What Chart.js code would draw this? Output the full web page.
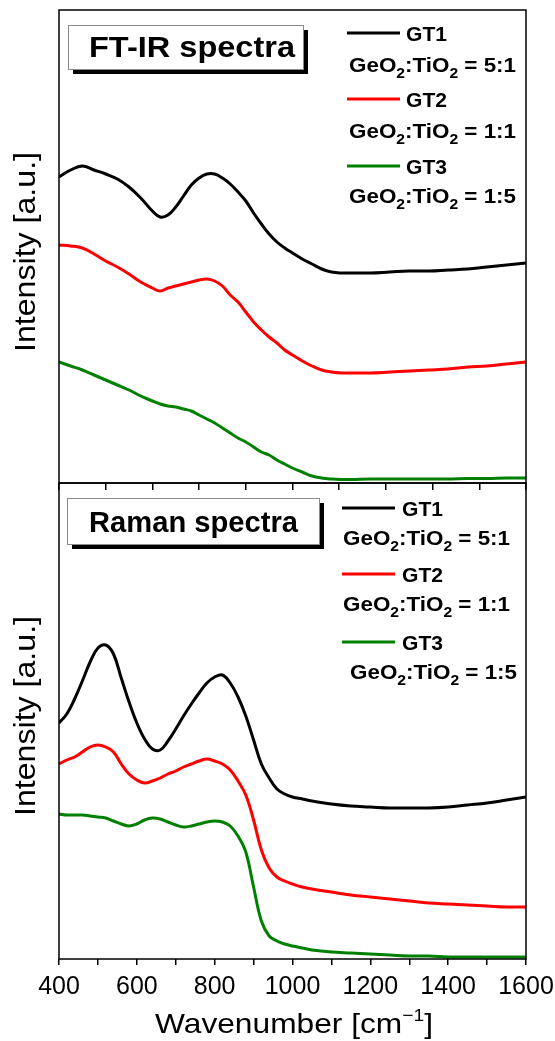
<!DOCTYPE html>
<html>
<head>
<meta charset="utf-8">
<script src="https://cdn.jsdelivr.net/npm/chart.js@4.4.1/dist/chart.umd.min.js"></script>
<style>
  html, body { margin: 0; padding: 0; background: #fff; }
  #wrap { position: relative; width: 555px; height: 1041px; background: #fff; }
  canvas { position: absolute; left: 0; top: 0; }
</style>
</head>
<body>
<div id="wrap">
  <canvas id="ftirChart" width="555" height="1041"></canvas>
  <canvas id="ramanChart" width="555" height="1041"></canvas>
</div>
<script>
// Samples
const seriesNames = ['GT1', 'GT2', 'GT3'];
const ratioLabels = ['5:1', '1:1', '1:5'];
const seriesColors = ['#000000', '#ff0000', '#008000'];

// FT-IR spectra (offset, arbitrary units)
const ftirWavenumber = [400, 430, 460, 490, 520, 550, 580, 610, 640,
  660, 680, 700, 720, 740, 760, 780, 800, 820, 840, 860, 880, 900, 920, 940, 960, 980, 1000,
  1025, 1050, 1075, 1100, 1125, 1150,
  1200, 1250, 1300, 1350, 1400, 1450, 1500, 1550, 1600];
const ftirGT1 = [306, 313, 317, 313, 309, 304, 296, 285, 272,
  266, 268, 276, 287, 298, 305, 309, 309, 305, 299, 291, 282, 270, 259, 249, 241, 235, 230,
  224, 219, 214, 211, 210, 210,
  210, 211, 212, 212, 213, 214, 216, 218, 220];
const ftirGT2 = [238, 237, 235, 229, 222, 216, 209, 201, 195,
  192, 195, 197, 199, 201, 203, 204, 202, 197, 188, 181, 171, 161, 153, 146, 140, 133, 128,
  122, 117, 113, 111, 110, 110,
  110, 111, 112, 113, 114, 116, 117, 119, 121];
const ftirGT3 = [121, 117, 113, 108, 103, 98, 93, 87, 82,
  79, 77, 76, 74, 72, 68, 64, 60, 55, 50, 45, 41, 36, 31, 28, 23, 19, 15,
  11, 7, 5, 4, 3.5, 3.5,
  4, 4, 4, 4, 4, 4.5, 4.5, 5, 5];

// Raman spectra (offset, arbitrary units)
const ramanWavenumber = [400, 420, 440, 460, 480, 500, 520, 540, 560, 580,
  600, 620, 640, 660, 680, 700, 720, 740, 760, 780,
  800, 820, 840, 860, 880, 900, 920, 940, 960, 980, 1000,
  1025, 1050,
  1100, 1150, 1200, 1250, 1300, 1350, 1400, 1450, 1500, 1550, 1600];
const ramanGT1 = [236, 245, 260, 278, 297, 311, 314, 305, 281, 257,
  236, 220, 210, 209, 218, 230, 243, 255, 266, 276,
  282, 284, 276, 262, 243, 219, 195, 181, 170, 165, 162,
  160, 158,
  155, 153, 152, 151, 151, 151, 152, 154, 156, 159, 162];
const ramanGT2 = [195, 199, 202, 207, 212, 214, 212, 207, 195, 185,
  179, 176, 178, 181, 185, 188, 192, 195, 198, 200,
  198, 195, 189, 178, 164, 139, 109, 91, 82, 78, 75,
  72, 70,
  67, 64, 62, 60, 58, 56, 55, 54, 53, 52, 52];
const ramanGT3 = [145, 144, 144, 144, 143, 142, 141, 138, 135, 133,
  135, 139, 141, 140, 137, 134, 132, 133, 135, 137,
  138, 137, 133, 123, 107, 72, 38, 23, 18, 15, 13,
  11, 9,
  7, 6, 5, 4, 3, 3, 2, 2, 2, 2, 2];

// Axis ticks
const ftirTickValues = [400, 520, 640, 760, 880, 1000, 1120, 1240, 1360, 1480, 1600];
const ramanTickValues = [400, 500, 600, 700, 800, 900, 1000, 1100, 1200, 1300, 1400, 1500, 1600];
const ramanTickLabels = ['400', '600', '800', '1000', '1200', '1400', '1600'];

const FONT = '"Liberation Sans", Arial, Helvetica, sans-serif';
Chart.defaults.font.family = FONT;
Chart.defaults.color = '#000';

function toPoints(xs, ys) {
  return xs.map((x, i) => ({ x: x, y: ys[i] }));
}

function makeDatasets(xs, seriesList) {
  return seriesList.map((ys, i) => ({
    label: seriesNames[i],
    data: toPoints(xs, ys),
    borderColor: seriesColors[i],
    borderWidth: 3,
    pointRadius: 0,
    tension: 0.4,
    fill: false
  }));
}

// text squeezed / stretched horizontally to a target width
function drawFitted(ctx, text, x, y, font, width) {
  ctx.font = font;
  const w = ctx.measureText(text).width;
  ctx.save();
  ctx.translate(x, y);
  ctx.scale(width / w, 1);
  ctx.fillText(text, 0, 0);
  ctx.restore();
}

// parts: [text, sizeFactor, shiftY]
function drawRich(ctx, parts, x, y, size, weight, width) {
  let natural = 0;
  parts.forEach(p => {
    ctx.font = `${weight} ${Math.round(size * p[1])}px ${FONT}`;
    natural += ctx.measureText(p[0]).width;
  });
  const sx = width / natural;
  ctx.save();
  ctx.translate(x, y);
  ctx.scale(sx, 1);
  let cx = 0;
  parts.forEach(p => {
    ctx.font = `${weight} ${Math.round(size * p[1])}px ${FONT}`;
    ctx.fillText(p[0], cx, p[2]);
    cx += ctx.measureText(p[0]).width;
  });
  ctx.restore();
}

const panelPlugin = {
  id: 'panel',
  afterDatasetsDraw(chart, args, cfg) {
    const { ctx, chartArea: a } = chart;
    ctx.save();
    // frame
    ctx.strokeStyle = '#000';
    ctx.lineWidth = 1.5;
    ctx.strokeRect(a.left, a.top, a.right - a.left, a.bottom - a.top);

    // title box with shadow
    const b = cfg.box;
    ctx.fillStyle = '#000';
    ctx.fillRect(b[0] + 5, b[1] + 5, b[2], b[3]);
    ctx.fillStyle = '#fff';
    ctx.fillRect(b[0], b[1], b[2], b[3]);
    ctx.strokeStyle = '#8a8a8a';
    ctx.lineWidth = 1;
    ctx.strokeRect(b[0] + 0.5, b[1] + 0.5, b[2], b[3]);
    ctx.fillStyle = '#000';
    ctx.textAlign = 'left';
    ctx.textBaseline = 'alphabetic';
    drawFitted(ctx, cfg.boxText, cfg.boxTextX, cfg.boxTextY, `bold 29px ${FONT}`, cfg.boxTextW);

    // legend
    const lg = cfg.legend;
    chart.data.datasets.forEach((ds, i) => {
      const ly = lg.rowY[i];
      ctx.strokeStyle = ds.borderColor;
      ctx.lineWidth = 3;
      ctx.beginPath();
      ctx.moveTo(lg.lineX0, ly);
      ctx.lineTo(lg.lineX1, ly);
      ctx.stroke();
      ctx.fillStyle = '#000';
      drawFitted(ctx, ds.label, lg.textX, ly + 7.5, `bold 20px ${FONT}`, 41);
      drawRich(ctx, [
        ['GeO', 1, 0], ['2', 0.68, 6], [':TiO', 1, 0], ['2', 0.68, 6], [' = ' + ratioLabels[i], 1, 0]
      ], lg.ratioX[i], lg.ratioY[i], 20, 'bold', 167);
    });

    // y axis title
    ctx.save();
    ctx.translate(35, cfg.yTitleY);
    ctx.rotate(-Math.PI / 2);
    ctx.textAlign = 'center';
    ctx.font = `29px ${FONT}`;
    const yt = 'Intensity [a.u.]';
    const yw = ctx.measureText(yt).width;
    ctx.scale(200 / yw, 1);
    ctx.fillText(yt, 0, 0);
    ctx.restore();

    // x axis title (bottom panel only)
    if (cfg.xTitle) {
      ctx.fillStyle = '#000';
      drawRich(ctx, [['Wavenumber [cm', 1, 0], ['\u22121', 0.6, -12], [']', 1, 0]],
        155, 1033, 28, 'normal', 278);
    }
    ctx.restore();
  }
};

function tickAxis(values) {
  return function (scale) {
    scale.ticks = values.map(v => ({ value: v }));
  };
}

function fixHeight(h) {
  return function (scale) {
    scale.height = h;
    scale.paddingLeft = 0;
    scale.paddingRight = 0;
  };
}

const ftirChart = new Chart(document.getElementById('ftirChart'), {
  type: 'line',
  data: { datasets: makeDatasets(ftirWavenumber, [ftirGT1, ftirGT2, ftirGT3]) },
  options: {
    responsive: false,
    animation: false,
    events: [],
    layout: { padding: { left: 59, right: 29, top: 10, bottom: 551 } },
    plugins: {
      legend: { display: false },
      tooltip: { enabled: false },
      panel: {
        box: [68, 25, 235, 44],
        boxText: 'FT-IR spectra', boxTextX: 89, boxTextY: 57, boxTextW: 206,
        legend: {
          lineX0: 347, lineX1: 400, textX: 406,
          rowY: [33, 99, 166],
          ratioX: [349, 349, 349],
          ratioY: [72, 137.5, 203]
        },
        yTitleY: 252
      }
    },
    scales: {
      x: {
        type: 'linear', min: 400, max: 1600,
        afterBuildTicks: tickAxis(ftirTickValues),
        afterFit: fixHeight(7),
        ticks: { display: false },
        border: { display: false },
        grid: { drawOnChartArea: false, drawTicks: true, tickLength: 7, color: '#000', lineWidth: 1.5 }
      },
      y: { display: false, min: 0, max: 473 }
    }
  },
  plugins: [panelPlugin]
});

const ramanChart = new Chart(document.getElementById('ramanChart'), {
  type: 'line',
  data: { datasets: makeDatasets(ramanWavenumber, [ramanGT1, ramanGT2, ramanGT3]) },
  options: {
    responsive: false,
    animation: false,
    events: [],
    layout: { padding: { left: 59, right: 29, top: 483, bottom: 32 } },
    plugins: {
      legend: { display: false },
      tooltip: { enabled: false },
      panel: {
        box: [67, 498, 252, 46],
        boxText: 'Raman spectra', boxTextX: 89, boxTextY: 532, boxTextW: 209,
        legend: {
          lineX0: 342, lineX1: 395, textX: 402,
          rowY: [508, 574, 642],
          ratioX: [343, 343, 350],
          ratioY: [545, 611, 679]
        },
        yTitleY: 716,
        xTitle: true
      }
    },
    scales: {
      x: {
        type: 'linear', min: 400, max: 1600,
        afterBuildTicks: tickAxis(ramanTickValues),
        afterFit: fixHeight(50),
        ticks: {
          autoSkip: false,
          maxRotation: 0,
          padding: 7,
          color: '#000',
          font: { size: 25 },
          callback: v => ramanTickLabels.includes(String(v)) ? String(v) : ''
        },
        border: { display: false },
        grid: { drawOnChartArea: false, drawTicks: true, tickLength: 6, color: '#000', lineWidth: 1.5 }
      },
      y: { display: false, min: 0, max: 476 }
    }
  },
  plugins: [panelPlugin]
});
</script>
</body>
</html>
